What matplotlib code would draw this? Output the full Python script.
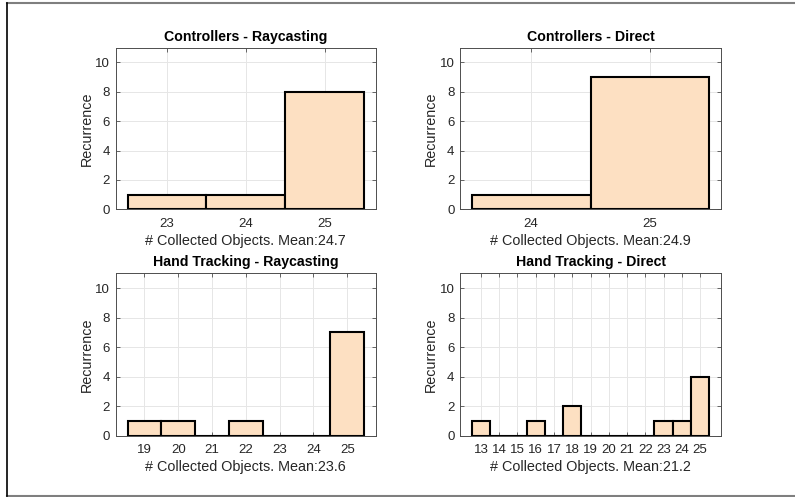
import matplotlib

matplotlib.use("Agg")
import matplotlib.pyplot as plt
from matplotlib.lines import Line2D

plt.rcParams["font.family"] = ["Liberation Sans", "DejaVu Sans"]

# counts per number of collected objects, one panel per condition
CR_TITLE = "Controllers - Raycasting"
CR_VALUES = [23, 24, 25]
CR_COUNTS = [1, 1, 8]

CD_TITLE = "Controllers - Direct"
CD_VALUES = [24, 25]
CD_COUNTS = [1, 9]

HR_TITLE = "Hand Tracking - Raycasting"
HR_VALUES = [19, 20, 21, 22, 23, 24, 25]
HR_COUNTS = [1, 1, 0, 1, 0, 0, 7]

HD_TITLE = "Hand Tracking - Direct"
HD_VALUES = [13, 14, 15, 16, 17, 18, 19, 20, 21, 22, 23, 24, 25]
HD_COUNTS = [1, 0, 0, 1, 0, 2, 0, 0, 0, 0, 1, 1, 4]

FACE = "#fde0c2"
AX_C = "#4d4d4d"
TXT_C = "#262626"

W, H = 795, 497


def panel(fig, rect_px, title, values, counts):
    x0, y0, x1, y1 = rect_px
    ax = fig.add_axes([x0 / W, 1 - y1 / H, (x1 - x0) / W, (y1 - y0) / H])
    ax.set_axisbelow(True)
    ax.bar(values, counts, width=1.0, color=FACE, edgecolor="black",
           linewidth=1.5, zorder=3)
    lo, hi = values[0] - 0.5, values[-1] + 0.5
    pad = (hi - lo) * 0.05
    ax.set_xlim(lo - pad, hi + pad)
    ax.set_ylim(0, 11)
    ax.set_xticks(values)
    ax.set_yticks(range(0, 11, 2))
    ax.grid(True, color="#e6e6e6", linewidth=0.7)
    ax.tick_params(direction="in", top=True, right=True, length=3,
                   width=0.6, color=AX_C, labelcolor=TXT_C, labelsize=9.5)
    ax.tick_params(axis="x", pad=6)
    ax.tick_params(axis="y", pad=4)
    for s in ax.spines.values():
        s.set_color(AX_C)
        s.set_linewidth(0.7)
    total = sum(counts)
    mean = sum(v * c for v, c in zip(values, counts)) / total
    ax.set_xlabel(f"# Collected Objects. Mean:{mean:.1f}", fontsize=10.4,
                  color=TXT_C, labelpad=3)
    ax.set_ylabel("Recurrence", fontsize=10.4, color=TXT_C, labelpad=1)
    ax.set_title(title, fontsize=10.2, weight="bold", color="black", pad=5)
    return ax


def main():
    fig = plt.figure(figsize=(W / 100, H / 100), dpi=100)

    panel(fig, (115.7, 47.7, 376, 209.3), CR_TITLE, CR_VALUES, CR_COUNTS)
    panel(fig, (460, 47.7, 721, 209.3), CD_TITLE, CD_VALUES, CD_COUNTS)
    panel(fig, (115.7, 273.3, 376, 435.7), HR_TITLE, HR_VALUES, HR_COUNTS)
    panel(fig, (460, 273.3, 721, 435.7), HD_TITLE, HD_VALUES, HD_COUNTS)

    # frame around the figure
    fig.add_artist(Line2D([7.3 / W, 1], [1 - 2.7 / H] * 2,
                          transform=fig.transFigure, color="#7f7f7f", lw=1.5))
    fig.add_artist(Line2D([7.3 / W, 1], [1 - 496 / H] * 2,
                          transform=fig.transFigure, color="#7f7f7f", lw=1.5))
    fig.add_artist(Line2D([7.3 / W] * 2, [1 - 2.7 / H, 1 - 496 / H],
                          transform=fig.transFigure, color="black", lw=1.2))

    fig.savefig("out.png", dpi=100)


if __name__ == "__main__":
    main()
